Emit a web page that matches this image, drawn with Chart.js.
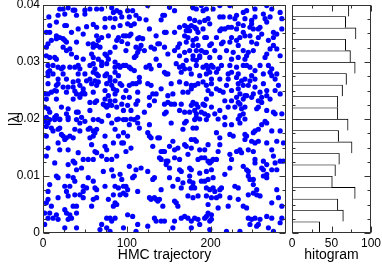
<!DOCTYPE html>
<html><head><meta charset="utf-8">
<script src="https://cdn.jsdelivr.net/npm/chart.js@4/dist/chart.umd.min.js"></script>
<style>
body{margin:0;background:#fff;width:382px;height:264px;overflow:hidden;position:relative}
canvas{position:absolute;top:0}
#scatter{left:0}
#hist{left:286px}
</style></head><body>
<canvas id="scatter" width="290" height="264"></canvas>
<canvas id="hist" width="96" height="264"></canvas>
<script>
// [trajectory, |lambda|]
const traj0to100=[[20,.0393],[24,.0393],[30,.0395],[36,.0391],[38,.0391],[50,.0391],[56,.0393],[64,.0393],[70,.0393],[82,.0395],[84,.0387],[88,.0390],[92,.0387],[7,.0379],[18,.0382],[26,.0384],[40,.0382],[50,.0384],[74,.0376],[80,.0377],[86,.0376],[94,.0379],[8,.0364],[16,.0370],[26,.0364],[28,.0364],[42,.0358],[52,.0362],[60,.0366],[64,.0361],[74,.0361],[84,.0361],[92,.0364],[4,.0352],[8,.0352],[16,.0346],[20,.0343],[34,.0352],[48,.0349],[64,.0346],[70,.0343],[78,.0346],[90,.0343],[96,.0346],[6,.0332],[10,.0338],[16,.0341],[24,.0341],[26,.0338],[28,.0335],[40,.0335],[54,.0332],[60,.0332],[66,.0338],[88,.0338],[94,.0336],[4,.0326],[24,.0326],[28,.0320],[32,.0323],[60,.0326],[64,.0329],[68,.0326],[74,.0314],[76,.0311],[80,.0317],[86,.0326],[4,.0311],[8,.0308],[14,.0308],[16,.0305],[34,.0314],[40,.0308],[48,.0305],[58,.0314],[60,.0308],[66,.0305],[70,.0300],[78,.0305],[86,.0300],[92,.0291],[96,.0294],[6,.0294],[12,.0294],[18,.0291],[22,.0288],[24,.0291],[32,.0291],[38,.0291],[42,.0294],[44,.0288],[56,.0294],[60,.0297],[62,.0288],[70,.0294],[76,.0297],[86,.0291],[90,.0294],[6,.0282],[8,.0285],[12,.0279],[24,.0279],[42,.0279],[50,.0279],[60,.0282],[64,.0279],[66,.0276],[74,.0276],[76,.0279],[80,.0273],[86,.0282],[90,.0276],[6,.0276],[18,.0270],[28,.0270],[36,.0265],[42,.0267],[52,.0267],[56,.0270],[62,.0267],[66,.0265],[80,.0267],[86,.0267],[92,.0262],[94,.0259],[6,.0262],[16,.0259],[18,.0262],[24,.0256],[30,.0256],[36,.0256],[44,.0259],[48,.0253],[58,.0262],[64,.0259],[76,.0262],[82,.0259],[84,.0253],[88,.0250],[2,.0244],[6,.0244],[10,.0247],[14,.0250],[16,.0249],[28,.0247],[38,.0249],[40,.0244],[46,.0244],[48,.0247],[50,.0244],[60,.0247],[74,.0250],[86,.0244],[4,.0235],[16,.0235],[36,.0235],[44,.0238],[56,.0229],[62,.0229],[64,.0232],[74,.0235],[78,.0241],[80,.0232],[86,.0232],[96,.0238],[2,.0221],[6,.0218],[8,.0212],[22,.0221],[30,.0218],[40,.0212],[42,.0212],[56,.0215],[72,.0226],[74,.0224],[76,.0221],[78,.0224],[82,.0224],[88,.0221],[94,.0226],[96,.0215],[4,.0203],[14,.0203],[16,.0206],[20,.0200],[28,.0209],[30,.0203],[46,.0203],[78,.0206],[90,.0200],
[2,.0196],[6,.0193],[8,.0199],[14,.0199],[20,.0199],[30,.0199],[40,.0199],[44,.0193],[50,.0196],[60,.0199],[66,.0199],[70,.0196],[82,.0193],[88,.0199],[96,.0199],[4,.0187],[10,.0184],[12,.0179],[18,.0182],[20,.0184],[38,.0182],[44,.0179],[54,.0182],[56,.0184],[60,.0179],[62,.0176],[64,.0182],[86,.0182],[96,.0176],[4,.0170],[22,.0173],[24,.0170],[26,.0164],[28,.0167],[32,.0170],[36,.0167],[56,.0167],[60,.0170],[74,.0170],[90,.0170],[94,.0158],[6,.0149],[18,.0158],[20,.0146],[30,.0146],[42,.0141],[58,.0155],[62,.0143],[64,.0141],[74,.0152],[76,.0146],[84,.0158],[96,.0158],[4,.0135],[36,.0126],[38,.0123],[48,.0129],[54,.0129],[60,.0129],[70,.0135],[76,.0129],[82,.0129],[88,.0135],[14,.0123],[30,.0120],[40,.0111],[46,.0114],[72,.0108],[82,.0111],[16,.0100],[18,.0097],[30,.0100],[36,.0097],[38,.0091],[54,.0097],[60,.0091],[84,.0100],[92,.0103],[94,.0094],[8,.0085],[26,.0082],[32,.0082],[48,.0082],[52,.0079],[62,.0079],[64,.0076],[74,.0082],[86,.0082],[90,.0079],[96,.0082],[6,.0073],[28,.0073],[38,.0067],[44,.0067],[48,.0073],[64,.0062],[78,.0059],[84,.0067],[92,.0067],[96,.0070],[6,.0059],[4,.0053],[18,.0062],[30,.0065],[48,.0062],[60,.0059],[86,.0053],[88,.0050],[10,.0047],[36,.0047],[40,.0047],[58,.0047],[84,.0047],[2,.0035],[8,.0035],[16,.0032],[26,.0041],[28,.0035],[32,.0032],[40,.0035],[12,.0026],[6,.0026],[86,.0026],[18,.0024],[30,.0024],[34,.0026],[76,.0026],[80,.0026],[82,.0021],[70,.0015],[96,.0009],[2,.0015],[26,.0009],[40,.0009],[68,.0006],[76,.0009],[80,.0003]];
const traj100to200=[[101,.0390],[107,.0390],[125,.0399],[151,.0396],[157,.0390],[179,.0395],[183,.0393],[189,.0399],[191,.0390],[103,.0379],[111,.0382],[115,.0376],[123,.0374],[141,.0374],[143,.0382],[145,.0382],[175,.0376],[181,.0373],[187,.0370],[193,.0373],[101,.0367],[105,.0364],[109,.0367],[127,.0358],[147,.0352],[163,.0361],[169,.0364],[171,.0355],[173,.0361],[175,.0355],[177,.0364],[181,.0361],[183,.0358],[185,.0352],[191,.0358],[99,.0346],[103,.0346],[105,.0349],[113,.0341],[115,.0343],[119,.0341],[135,.0346],[145,.0352],[157,.0352],[169,.0346],[173,.0343],[179,.0338],[183,.0341],[193,.0343],[101,.0332],[111,.0326],[115,.0323],[117,.0329],[129,.0326],[133,.0323],[137,.0332],[139,.0332],[145,.0326],[161,.0326],[163,.0332],[171,.0335],[179,.0329],[185,.0329],[189,.0320],[99,.0320],[113,.0317],[121,.0320],[149,.0314],[157,.0320],[163,.0311],[169,.0317],[175,.0320],[179,.0311],[183,.0320],[187,.0311],[193,.0317],[109,.0308],[111,.0311],[135,.0305],[171,.0303],[179,.0305],[183,.0303],[187,.0308],[99,.0294],[103,.0291],[105,.0288],[109,.0285],[123,.0291],[127,.0294],[129,.0288],[139,.0294],[159,.0297],[163,.0291],[167,.0294],[169,.0288],[175,.0288],[183,.0294],[191,.0291],[115,.0273],[145,.0282],[147,.0279],[149,.0279],[165,.0282],[177,.0279],[187,.0276],[103,.0259],[107,.0262],[111,.0262],[115,.0265],[125,.0262],[129,.0259],[153,.0262],[163,.0265],[171,.0262],[177,.0259],[181,.0259],[185,.0262],[191,.0265],[99,.0250],[113,.0247],[141,.0253],[155,.0244],[167,.0247],[173,.0247],[177,.0253],[103,.0238],[127,.0238],[131,.0244],[135,.0244],[149,.0241],[149,.0229],[157,.0226],[153,.0226],[179,.0229],[183,.0226],[185,.0221],[191,.0226],[101,.0224],[111,.0226],[113,.0232],[127,.0224],[133,.0232],[145,.0226],[165,.0226],[177,.0224],[181,.0215],[193,.0224],[105,.0215],[121,.0212],[145,.0209],[147,.0212],[163,.0215],[169,.0212],[175,.0212],[183,.0209],[189,.0212],[193,.0209],[105,.0200],[113,.0203],[183,.0203],[187,.0200],
[99,.0199],[109,.0199],[113,.0193],[103,.0190],[115,.0184],[127,.0190],[153,.0193],[171,.0196],[169,.0193],[181,.0199],[179,.0184],[183,.0184],[167,.0182],[101,.0170],[125,.0176],[127,.0170],[129,.0167],[137,.0167],[139,.0167],[155,.0161],[177,.0164],[181,.0164],[183,.0161],[99,.0143],[105,.0149],[131,.0152],[141,.0143],[143,.0143],[145,.0143],[151,.0152],[157,.0146],[161,.0149],[169,.0155],[171,.0152],[177,.0149],[187,.0146],[193,.0146],[193,.0132],[139,.0132],[141,.0129],[147,.0126],[149,.0126],[157,.0132],[163,.0129],[173,.0138],[185,.0129],[189,.0132],[103,.0117],[111,.0111],[117,.0114],[125,.0108],[147,.0120],[151,.0114],[163,.0111],[165,.0108],[175,.0114],[177,.0111],[187,.0105],[107,.0097],[109,.0100],[131,.0094],[133,.0097],[151,.0097],[161,.0094],[167,.0088],[175,.0100],[175,.0091],[179,.0088],[179,.0082],[181,.0079],[189,.0091],[99,.0082],[101,.0076],[113,.0073],[141,.0076],[155,.0082],[165,.0079],[177,.0079],[99,.0067],[127,.0062],[129,.0059],[133,.0062],[135,.0059],[139,.0059],[137,.0056],[143,.0047],[157,.0056],[159,.0053],[161,.0047],[173,.0065],[179,.0062],[185,.0065],[101,.0032],[107,.0029],[113,.0015],[125,.0012],[133,.0026],[135,.0021],[141,.0021],[145,.0021],[157,.0021],[165,.0026],[169,.0029],[173,.0026],[177,.0021],[181,.0026],[185,.0024],[193,.0026],[187,.0015],[111,.0003],[155,.0009],[177,.0009]];
const traj200to290=[[195,.0393],[203,.0393],[211,.0399],[223,.0399],[239,.0387],[243,.0390],[253,.0393],[267,.0399],[273,.0393],[283,.0387],[263,.0384],[197,.0376],[211,.0379],[215,.0379],[223,.0379],[231,.0382],[229,.0376],[241,.0376],[249,.0373],[253,.0379],[265,.0376],[267,.0370],[271,.0379],[285,.0376],[199,.0367],[211,.0355],[213,.0358],[217,.0358],[221,.0361],[225,.0361],[231,.0358],[233,.0367],[239,.0364],[239,.0352],[247,.0361],[249,.0367],[251,.0358],[257,.0358],[259,.0361],[275,.0352],[285,.0358],[195,.0343],[207,.0343],[225,.0343],[235,.0343],[241,.0346],[247,.0346],[257,.0343],[261,.0349],[275,.0343],[279,.0349],[199,.0329],[201,.0332],[213,.0332],[215,.0335],[223,.0335],[231,.0338],[233,.0329],[249,.0335],[255,.0332],[269,.0338],[275,.0329],[279,.0323],[195,.0317],[205,.0320],[219,.0320],[227,.0317],[239,.0320],[245,.0317],[251,.0320],[267,.0314],[271,.0323],[199,.0308],[211,.0308],[225,.0305],[233,.0308],[241,.0305],[243,.0311],[265,.0308],[283,.0311],[195,.0294],[201,.0294],[203,.0291],[197,.0288],[209,.0288],[213,.0294],[223,.0294],[231,.0291],[239,.0294],[243,.0294],[247,.0291],[253,.0285],[259,.0294],[269,.0294],[273,.0288],[195,.0279],[199,.0282],[207,.0282],[221,.0279],[225,.0282],[233,.0279],[249,.0276],[263,.0279],[271,.0282],[273,.0276],[279,.0279],[201,.0270],[211,.0270],[221,.0270],[231,.0273],[237,.0267],[241,.0270],[247,.0267],[253,.0270],[277,.0270],[195,.0259],[201,.0262],[219,.0259],[233,.0262],[239,.0259],[245,.0259],[253,.0256],[263,.0262],[281,.0259],[197,.0250],[207,.0253],[211,.0250],[215,.0247],[225,.0250],[233,.0253],[235,.0244],[243,.0241],[251,.0244],[259,.0247],[267,.0250],[277,.0250],[201,.0244],[231,.0238],[239,.0235],[241,.0241],[249,.0238],[261,.0238],[267,.0241],[283,.0244],[195,.0235],[217,.0232],[225,.0232],[233,.0229],[235,.0226],[257,.0232],[261,.0229],[271,.0235],[201,.0221],[211,.0215],[221,.0221],[229,.0221],[237,.0218],[241,.0221],[255,.0218],[257,.0221],[267,.0215],[275,.0212],[277,.0209],[197,.0206],[205,.0209],[235,.0206],[239,.0209],[285,.0209],[209,.0200],[217,.0203],[233,.0200],[241,.0200],
[195,.0199],[217,.0190],[225,.0190],[235,.0193],[261,.0190],[265,.0196],[267,.0193],[257,.0182],[253,.0179],[241,.0173],[243,.0170],[251,.0176],[273,.0179],[283,.0179],[207,.0176],[223,.0173],[211,.0167],[227,.0170],[197,.0155],[211,.0155],[241,.0164],[249,.0161],[253,.0158],[257,.0161],[267,.0158],[279,.0161],[287,.0158],[235,.0146],[237,.0141],[245,.0146],[251,.0143],[273,.0146],[209,.0143],[223,.0138],[231,.0143],[197,.0126],[199,.0123],[201,.0126],[203,.0129],[207,.0129],[195,.0108],[201,.0111],[225,.0129],[253,.0129],[253,.0123],[263,.0126],[267,.0120],[275,.0135],[277,.0123],[283,.0126],[287,.0126],[223,.0114],[239,.0117],[243,.0111],[245,.0108],[261,.0114],[263,.0111],[267,.0097],[273,.0111],[279,.0111],[193,.0091],[197,.0094],[203,.0097],[217,.0103],[245,.0100],[247,.0094],[251,.0094],[263,.0100],[267,.0103],[195,.0079],[199,.0076],[203,.0079],[205,.0073],[211,.0076],[213,.0079],[229,.0082],[233,.0079],[251,.0085],[251,.0070],[255,.0076],[279,.0076],[281,.0062],[195,.0065],[201,.0062],[207,.0062],[211,.0065],[223,.0062],[233,.0059],[245,.0067],[255,.0067],[259,.0065],[197,.0050],[209,.0044],[221,.0047],[239,.0047],[243,.0044],[273,.0053],[285,.0047],[197,.0035],[195,.0029],[201,.0032],[245,.0026],[249,.0024],[253,.0026],[259,.0024],[267,.0029],[273,.0026],[199,.0021],[201,.0024],[247,.0015],[255,.0012],[257,.0015],[269,.0009],[283,.0018],[285,.0026],[199,.0006],[219,.0003],[235,.0003],[275,.0003]];

// histogram, bins of 0.002 from bottom to top
const binCenters=[0.001,0.003,0.005,0.007,0.009,0.011,0.013,0.015,0.017,0.019,0.021,0.023,0.025,0.027,0.029,0.031,0.033,0.035,0.037,0.039];
const counts=[35,65,58,80,51,55,60,76,59,71,58,58,64,69,80,74,68,81,68,72];

// tick labels
const trajTicks=[0,100,200];
const lambdaTicks=[0,0.01,0.02,0.03,0.04];
const histTicks=[0,50,100];

const $=id=>document.getElementById(id);
const FONT='"Liberation Sans", Arial, sans-serif';
const tickFont={family:FONT,size:12}, titleFont={family:FONT,size:14};
Chart.defaults.color='#000';

// inward ticks on all four sides + frame (grace style)
function marks(ctx,s,step,major,horiz,a){
  for(let i=0;;i++){
    const v=i*step; if(v>s.max+1e-12)break;
    const p=Math.round(s.getPixelForValue(v))+0.5;
    const r=v/major, len=Math.abs(r-Math.round(r))<1e-6?6:3;
    if(horiz){ctx.moveTo(p,a.bottom);ctx.lineTo(p,a.bottom-len);ctx.moveTo(p,a.top);ctx.lineTo(p,a.top+len);}
    else{ctx.moveTo(a.left,p);ctx.lineTo(a.left+len,p);ctx.moveTo(a.right,p);ctx.lineTo(a.right-len,p);}
  }
}
const frameTicks={id:'frameTicks',afterDraw(c,args,o){
  const {ctx,chartArea:a,scales:{x,y}}=c;
  const b={left:Math.round(a.left)+0.5,right:Math.round(a.right)-0.5,top:Math.round(a.top)+0.5,bottom:Math.round(a.bottom)-0.5};
  ctx.save();ctx.strokeStyle='#333';ctx.lineWidth=1;
  ctx.strokeRect(b.left,b.top,b.right-b.left,b.bottom-b.top);
  ctx.beginPath();
  marks(ctx,x,o.xMinor,o.xMajor,true,b);
  marks(ctx,y,0.0025,0.01,false,b);
  ctx.stroke();ctx.restore();
}};

const noGrid={display:false,drawTicks:false};
const fixX=s=>{s.height=31;s.paddingLeft=0;s.paddingRight=0};
const setTicks=vals=>s=>{s.ticks=vals.map(v=>({value:v}))};

new Chart($("scatter"),{
  type:'scatter',
  data:{datasets:[{data:[...traj0to100,...traj100to200,...traj200to290].map(([t,l])=>({x:t,y:l})),
    pointRadius:2.6,pointBackgroundColor:'#0000ff',pointBorderWidth:0,showLine:false}]},
  options:{responsive:false,animation:false,
    layout:{padding:{top:5,right:4,left:0,bottom:0}},
    plugins:{legend:{display:false},tooltip:{enabled:false},frameTicks:{xMinor:25,xMajor:100}},
    scales:{
      x:{type:'linear',min:0,max:290,grid:noGrid,border:{display:false},
        afterBuildTicks:setTicks(trajTicks),
        ticks:{font:tickFont,padding:3,maxRotation:0,autoSkip:false},
        title:{display:true,text:'HMC trajectory',font:titleFont,padding:{top:0,bottom:0}},
        afterFit:fixX},
      y:{type:'linear',min:0,max:0.04,grid:noGrid,border:{display:false},
        afterBuildTicks:setTicks(lambdaTicks),
        ticks:{font:tickFont,padding:3,autoSkip:false,callback:v=>v===0?'0':v.toFixed(2)},
        title:{display:true,text:'|λ|',font:titleFont,padding:{top:7,bottom:0}},
        afterFit:s=>{s.width=43;s.paddingTop=0;s.paddingBottom=0}}
    }},
  plugins:[frameTicks]
});

new Chart($("hist"),{
  type:'bar',
  data:{datasets:[{data:counts.map((n,i)=>({x:n,y:binCenters[i]})),
    backgroundColor:'#fff',borderColor:'#000',borderWidth:{top:1,right:1,bottom:0,left:0},borderSkipped:false,
    barPercentage:1,categoryPercentage:1}]},
  options:{responsive:false,animation:false,indexAxis:'y',
    layout:{padding:{top:5,right:11,left:0,bottom:0}},
    plugins:{legend:{display:false},tooltip:{enabled:false},frameTicks:{xMinor:25,xMajor:50}},
    scales:{
      x:{type:'linear',min:0,max:100,grid:noGrid,border:{display:false},
        afterBuildTicks:setTicks(histTicks),
        ticks:{font:tickFont,padding:3,maxRotation:0,autoSkip:false},
        title:{display:true,text:'hitogram',font:titleFont,padding:{top:0,bottom:0}},
        afterFit:fixX},
      y:{type:'linear',min:0,max:0.04,offset:false,grid:{display:false,drawTicks:false,offset:false},border:{display:false},
        ticks:{display:false},
        afterFit:s=>{s.width=6;s.paddingTop=0;s.paddingBottom=0}}
    }},
  plugins:[frameTicks]
});
</script>
</body></html>
